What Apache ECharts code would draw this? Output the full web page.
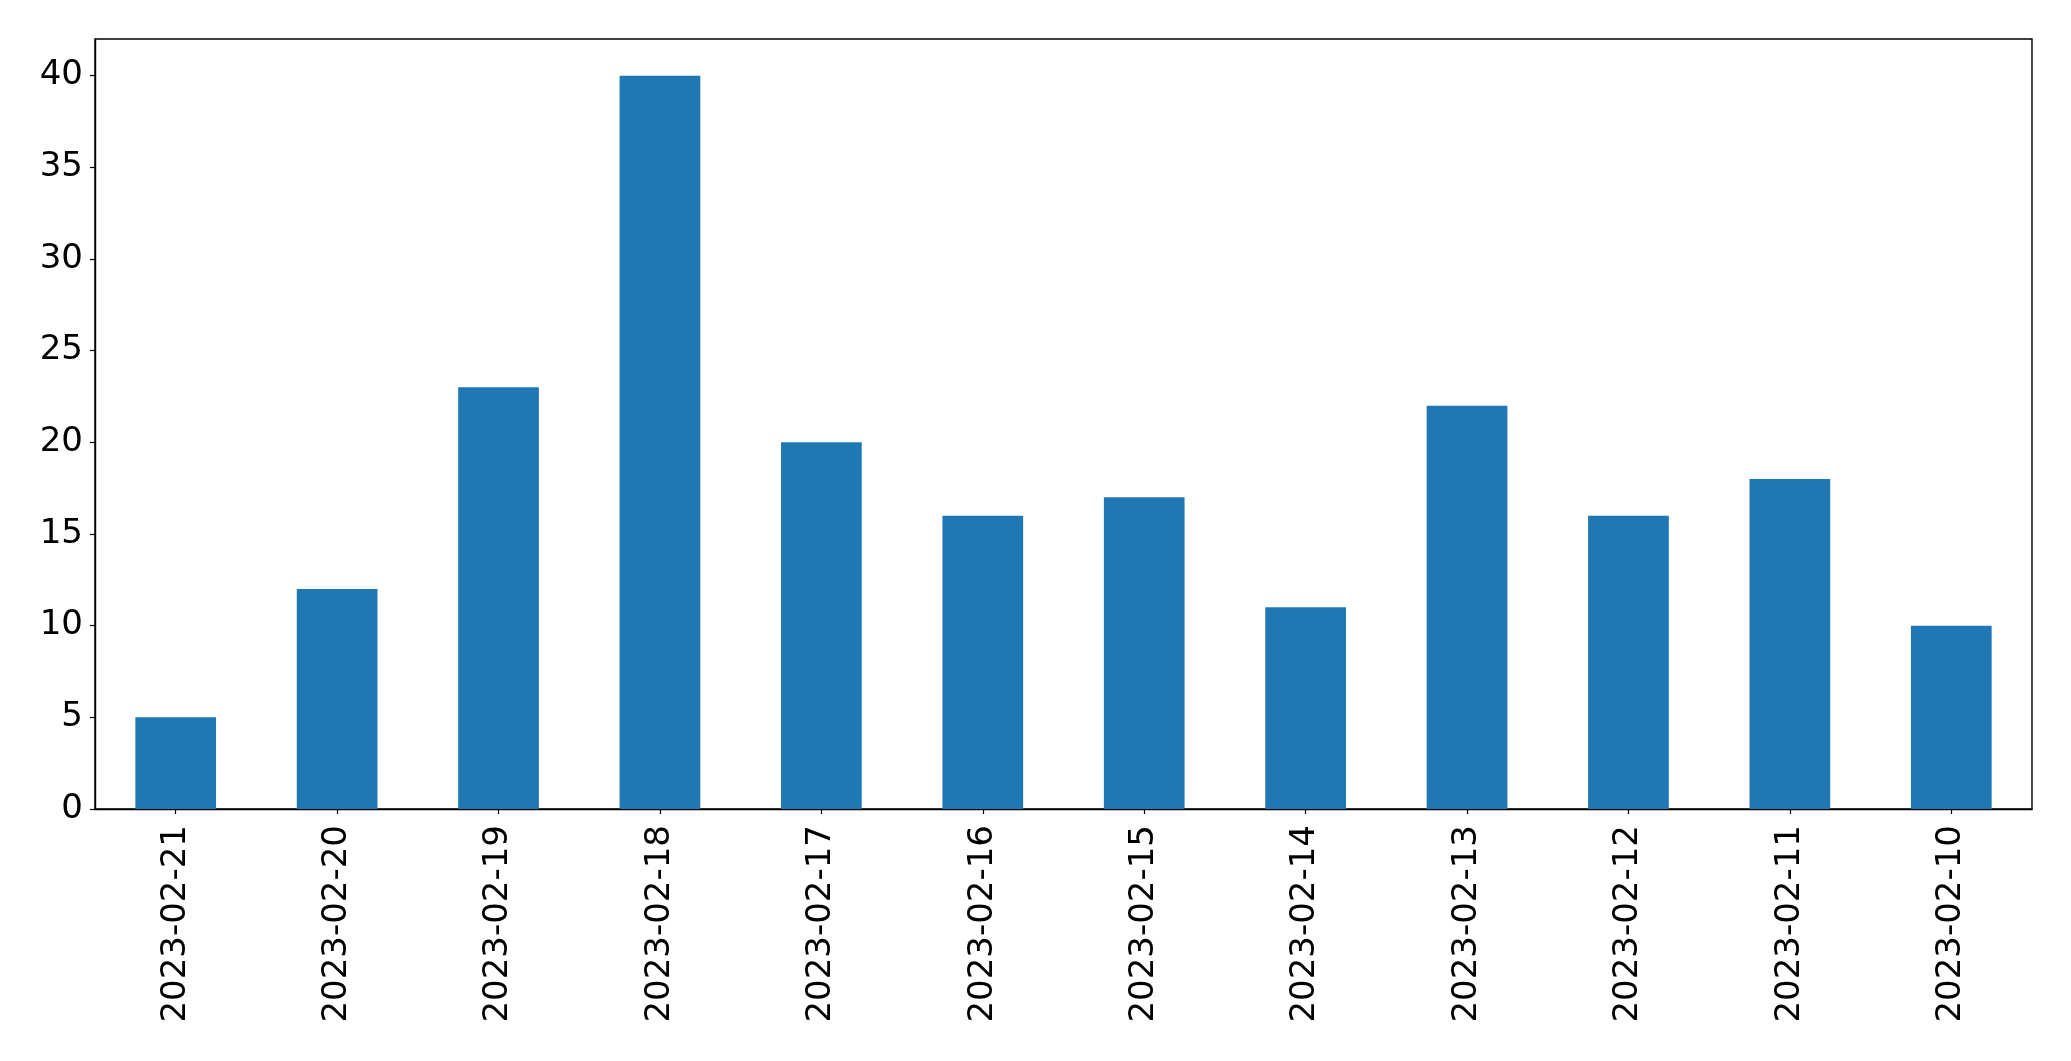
<!DOCTYPE html>
<html>
<head>
<meta charset="utf-8">
<script src="https://cdn.jsdelivr.net/npm/echarts@6/dist/echarts.min.js"></script>
<style>
html,body{margin:0;padding:0;background:#fff;}
#chart{width:2071px;height:1061px;}
</style>
</head>
<body>
<div id="chart"></div>
<script>
const categories = ["2023-02-21","2023-02-20","2023-02-19","2023-02-18","2023-02-17","2023-02-16","2023-02-15","2023-02-14","2023-02-13","2023-02-12","2023-02-11","2023-02-10"];
const counts = [5, 12, 23, 40, 20, 16, 17, 11, 22, 16, 18, 10];
const yTicks = [0, 5, 10, 15, 20, 25, 30, 35, 40];

const font = {fontFamily: "DejaVu Sans", fontSize: 34, color: "#000"};
const chart = echarts.init(document.getElementById('chart'), null, {renderer: 'canvas'});
chart.setOption({
  animation: false,
  backgroundColor: '#fff',
  grid: {left: 95, top: 39, width: 1937, height: 770, show: true, borderColor: '#000', borderWidth: 1.4, backgroundColor: 'transparent'},
  xAxis: {
    type: 'category',
    data: categories,
    boundaryGap: true,
    axisLine: {show: true, lineStyle: {color: '#000', width: 1.4}},
    axisTick: {show: true, alignWithLabel: true, length: 5, lineStyle: {color: '#000', width: 1.2}},
    axisLabel: Object.assign({rotate: 90, margin: 16, interval: 0}, font),
    splitLine: {show: false}
  },
  yAxis: {
    type: 'value',
    min: 0,
    max: 42,
    axisLine: {show: true, lineStyle: {color: '#000', width: 1.4}},
    axisTick: {show: true, length: 5, customValues: yTicks, lineStyle: {color: '#000', width: 1.2}},
    axisLabel: Object.assign({margin: 12, customValues: yTicks}, font),
    splitLine: {show: false}
  },
  series: [{
    type: 'bar',
    data: counts,
    barWidth: '50%',
    itemStyle: {color: '#1f77b4'}
  }]
});
</script>
</body>
</html>
